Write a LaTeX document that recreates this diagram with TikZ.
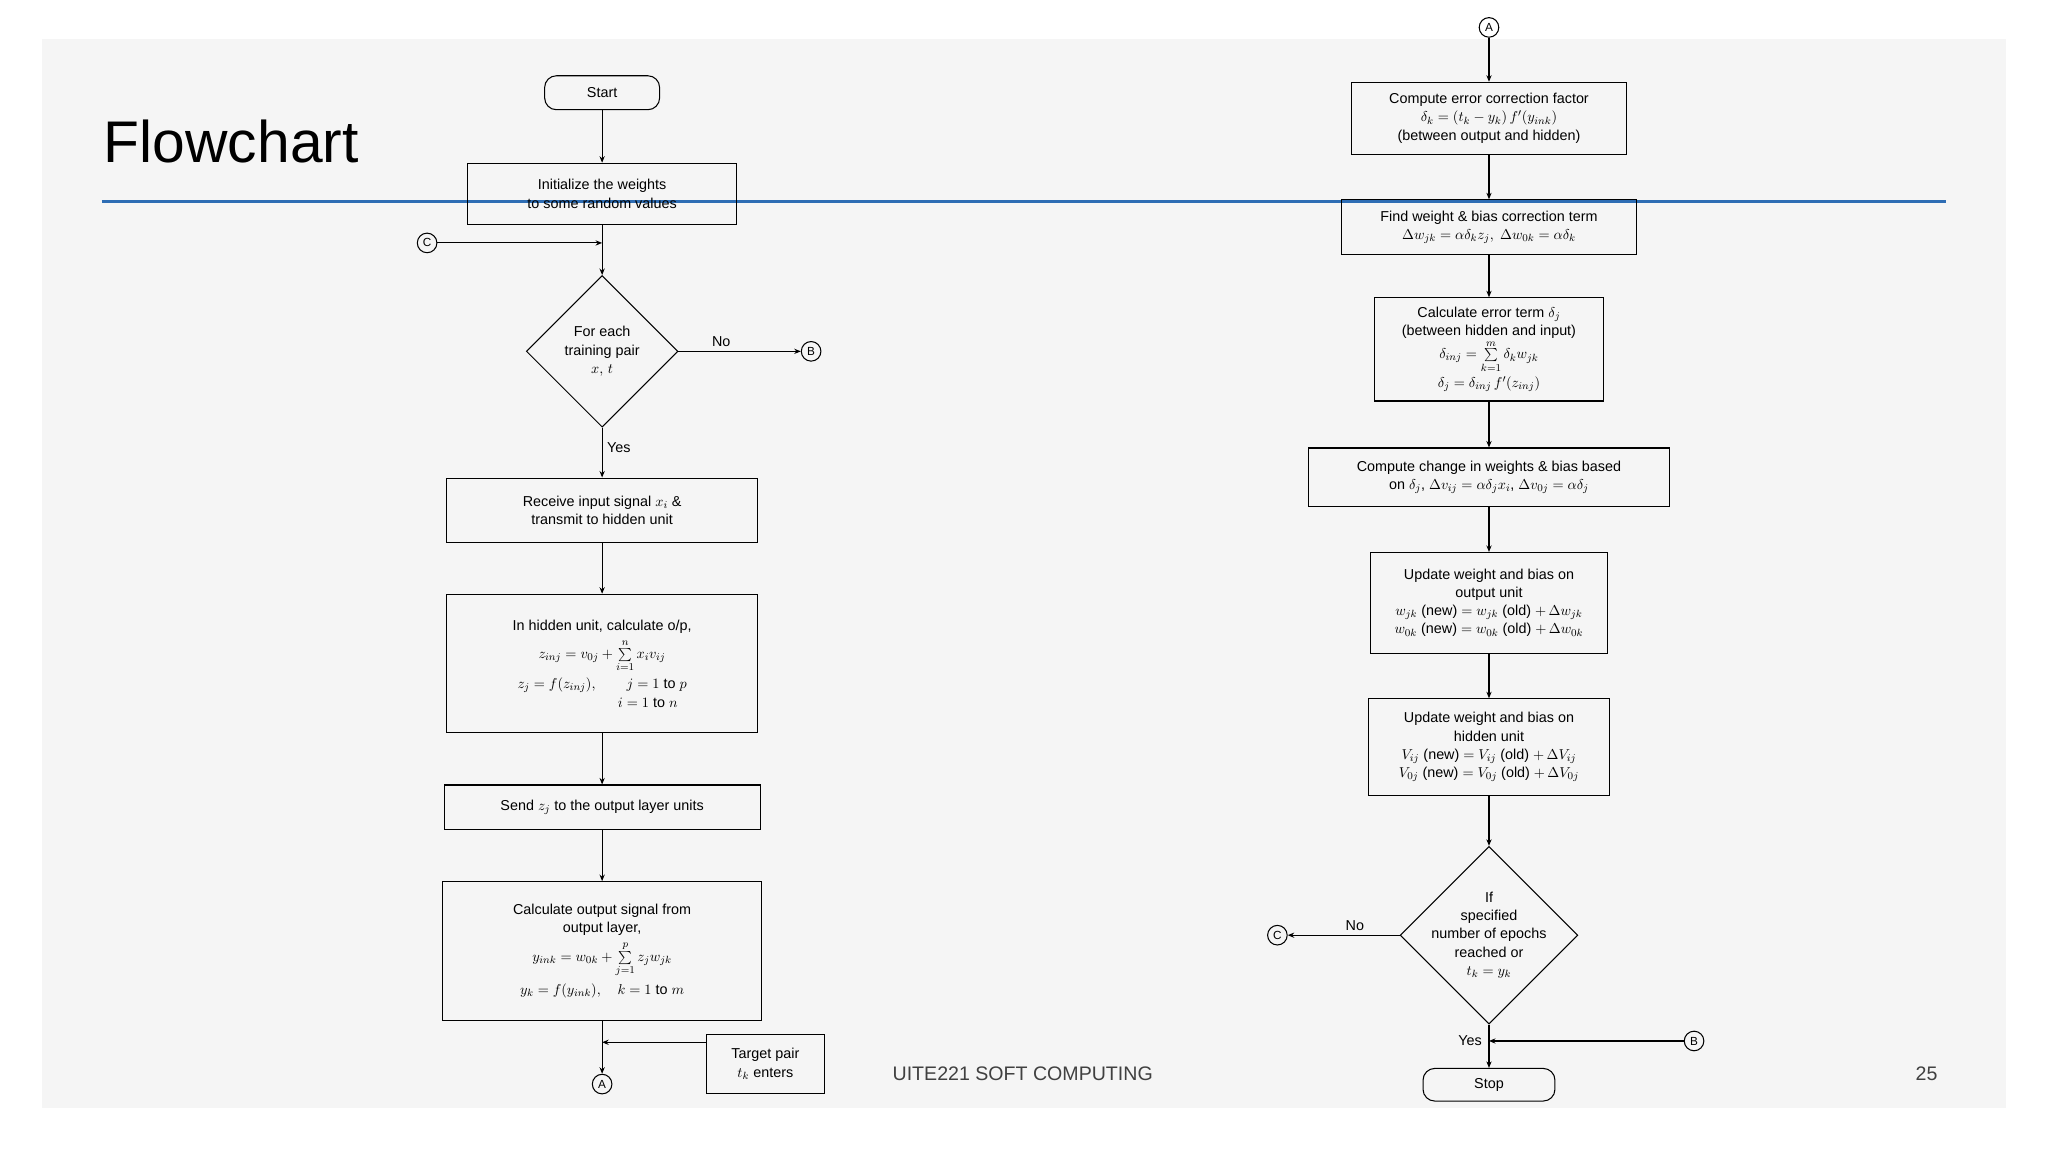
\documentclass[tikz,border=0pt]{standalone}
\usepackage{fontspec}
\setmainfont{Liberation Sans}
\usetikzlibrary{arrows.meta,shapes.geometric}
\definecolor{rule}{HTML}{2E6DB4}
\begin{document}
\begin{tikzpicture}[x=1pt,y=-1pt,
 box/.style={draw,thick,align=center,font=\fontsize{11}{14}\selectfont,inner sep=0pt},
 term/.style={box,rounded corners=9pt},
 dia/.style={draw,thick,diamond,aspect=1,align=center,font=\fontsize{11}{14}\selectfont,inner sep=0pt},
 con/.style={draw,thick,circle,inner sep=0.5pt,minimum size=15pt,font=\fontsize{9}{9}\selectfont},
 arr/.style={thick,-{Stealth[length=5pt,width=4pt]}},
 lab/.style={font=\fontsize{11}{13}\selectfont}]
\useasboundingbox (0,0) rectangle (1568,882);
\fill[white] (0,0) rectangle (1568,882);
\fill[gray!8] (32,30) rectangle (1536,848);
\node[anchor=west,font=\fontsize{45}{52}\selectfont] (title) at (76,108) {Flowchart};
\draw[line width=2.5pt,rule] (78,154) -- (1490,154);
% left column
\node[term,minimum width=88pt,minimum height=26pt] (start) at (461,71) {Start};
\node[box,minimum width=206pt,minimum height=47pt] (init) at (461,148.5) {Initialize the weights\\to some random values};
\node[con] (cl) at (327,186) {C};
\coordinate (cj) at (461,186);
\node[dia,minimum width=116pt,minimum height=116pt] (d1) at (461,269) {For each\\training pair\\$x,\,t$};
\node[con] (bl) at (621,269) {B};
\node[box,minimum width=238pt,minimum height=49pt] (recv) at (461,390.5) {Receive input signal $x_i$ \&\\transmit to hidden unit};
\node[box,minimum width=238pt,minimum height=106pt] (hid) at (461,508) {In hidden unit, calculate o/p,\\[4pt]
 $z_{inj}=v_{0j}+\sum\limits_{i=1}^{n}x_iv_{ij}$\\[4pt]
 $z_j=f(z_{inj}),\qquad j=1$ to $p$\\ \hspace*{70pt}$i=1$ to $n$};
\node[box,minimum width=242pt,minimum height=34pt] (send) at (461,618) {Send $z_j$ to the output layer units};
\node[box,minimum width=244pt,minimum height=106pt] (outl) at (461,728) {Calculate output signal from\\output layer,\\[4pt]
 $y_{ink}=w_{0k}+\sum\limits_{j=1}^{p}z_jw_{jk}$\\[4pt] $y_k=f(y_{ink}),\quad k=1$ to $m$};
\node[con] (al) at (461,830) {A};
\node[box,minimum width=90pt,minimum height=45pt] (tgt) at (586,814.5) {Target pair\\$t_k$ enters};
\coordinate (tj) at (461,798);
\draw[arr] (start) -- (init);
\draw[thick] (init) -- (cj);
\draw[arr] (cl) -- (cj);
\draw[arr] (cj) -- (d1);
\draw[arr] (d1) -- node[lab,above,pos=0.35]{No} (bl);
\draw[arr] (d1) -- node[lab,right,pos=0.4]{Yes} (recv);
\draw[arr] (recv) -- (hid);
\draw[arr] (hid) -- (send);
\draw[arr] (send) -- (outl);
\draw[arr] (outl) -- (al);
\draw[arr] (tgt.west |- tj) -- (tj);
% right column
\node[con] (ar) at (1140,21) {A};
\node[box,minimum width=211pt,minimum height=55pt] (b1) at (1140,90.5) {Compute error correction factor\\$\delta_k=(t_k-y_k)\,f'(y_{ink})$\\(between output and hidden)};
\node[box,minimum width=226pt,minimum height=42pt] (b2) at (1140,174) {Find weight \& bias correction term\\$\Delta w_{jk}=\alpha\delta_kz_j,\ \Delta w_{0k}=\alpha\delta_k$};
\node[box,minimum width=176pt,minimum height=79pt] (b3) at (1140,267.5) {Calculate error term $\delta_j$\\(between hidden and input)\\
 $\delta_{inj}=\sum\limits_{k=1}^{m}\delta_kw_{jk}$\\[2pt] $\delta_j=\delta_{inj}\,f'(z_{inj})$};
\node[box,minimum width=276pt,minimum height=45pt] (b4) at (1140,365.5) {Compute change in weights \& bias based\\on $\delta_j$, $\Delta v_{ij}=\alpha\delta_jx_i$, $\Delta v_{0j}=\alpha\delta_j$};
\node[box,minimum width=182pt,minimum height=77pt] (b5) at (1140,461.5) {Update weight and bias on\\output unit\\
 $w_{jk}$ (new) $=w_{jk}$ (old) $+\,\Delta w_{jk}$\\ $w_{0k}$ (new) $=w_{0k}$ (old) $+\,\Delta w_{0k}$};
\node[box,minimum width=185pt,minimum height=74pt] (b6) at (1140,572) {Update weight and bias on\\hidden unit\\
 $V_{ij}$ (new) $=V_{ij}$ (old) $+\,\Delta V_{ij}$\\ $V_{0j}$ (new) $=V_{0j}$ (old) $+\,\Delta V_{0j}$};
\node[dia,minimum width=136pt,minimum height=136pt,inner sep=-14pt] (d2) at (1140,716) {If\\specified\\number of epochs\\reached or\\$t_k=y_k$};
\node[con] (cr) at (978,716) {C};
\node[term,minimum width=101pt,minimum height=25pt] (stop) at (1140,830.5) {Stop};
\node[con] (br) at (1297,797) {B};
\coordinate (bj) at (1140,797);
\draw[arr] (ar) -- (b1);
\draw[arr] (b1) -- (b2);
\draw[arr] (b2) -- (b3);
\draw[arr] (b3) -- (b4);
\draw[arr] (b4) -- (b5);
\draw[arr] (b5) -- (b6);
\draw[arr] (b6) -- (d2);
\draw[arr] (d2) -- node[lab,above,pos=0.4]{No} (cr);
\draw[arr] (d2) -- (stop);
\node[lab,left] (yes) at (1138,797) {Yes};
\draw[arr] (br) -- (bj);
% footer
\node[font=\fontsize{15}{18}\selectfont,text=black!75] (foot) at (783,822) {UITE221 SOFT COMPUTING};
\node[font=\fontsize{15}{18}\selectfont,text=black!75] (pg) at (1475,822) {25};
\end{tikzpicture}
\end{document}
